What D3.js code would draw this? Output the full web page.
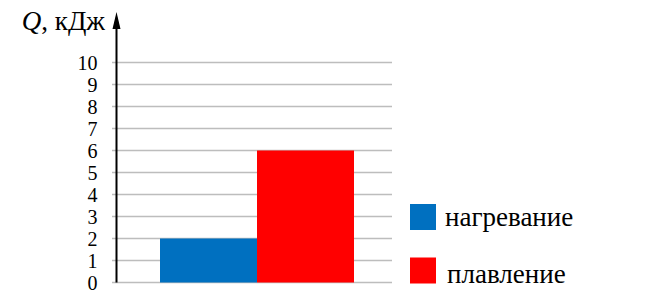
<!DOCTYPE html>
<html lang="ru">
<head>
<meta charset="UTF-8">
<script src="https://d3js.org/d3.v7.min.js"></script>
<style>
  body { margin: 0; background: #fff; }
</style>
</head>
<body>
<svg id="chart" width="648" height="304"></svg>
<script>
// data
const categories = ["нагревание", "плавление"];
const values = [2, 6];
const colors = ["#0070c0", "#ff0000"];
const yTicks = [0, 1, 2, 3, 4, 5, 6, 7, 8, 9, 10];

const serif = "'Liberation Serif', 'Times New Roman', serif";
const svg = d3.select("#chart");

// scales
const y = d3.scaleLinear().domain([0, 10]).range([282.5, 62.5]);
const x = d3.scaleBand().domain(categories).range([160, 354]).paddingInner(0);

// gridlines
svg.append("g")
  .selectAll("line")
  .data(yTicks)
  .join("line")
  .attr("x1", 112)
  .attr("x2", 392)
  .attr("y1", d => y(d))
  .attr("y2", d => y(d))
  .attr("stroke", "#bdbdbd")
  .attr("stroke-width", 1.5);

// bars
svg.append("g")
  .selectAll("rect")
  .data(values)
  .join("rect")
  .attr("x", (d, i) => x(categories[i]))
  .attr("width", x.bandwidth())
  .attr("y", d => y(d))
  .attr("height", d => y(0) - y(d))
  .attr("fill", (d, i) => colors[i]);

// y axis with arrow
const axis = d3.axisLeft(y).tickValues(yTicks).tickSize(0).tickPadding(19);
const gAxis = svg.append("g")
  .attr("transform", "translate(116.5,0)")
  .call(axis)
  .attr("font-family", null)
  .attr("font-size", null);
gAxis.select(".domain").remove();
gAxis.selectAll("text")
  .style("font-family", serif)
  .style("font-size", "20px")
  .attr("fill", "#000")
  .attr("dy", "0.34em");

svg.append("line")
  .attr("x1", 116.5).attr("x2", 116.5)
  .attr("y1", y(0)).attr("y2", 26)
  .attr("stroke", "#000").attr("stroke-width", 2);
svg.append("path")
  .attr("d", "M116.5,12 L112.5,29 L120.5,29 Z")
  .attr("fill", "#000");

// axis title
const title = svg.append("text")
  .attr("x", 105)
  .attr("y", 30)
  .attr("text-anchor", "end")
  .style("font-family", serif)
  .style("font-size", "27px");
title.append("tspan").attr("font-style", "italic").text("Q");
title.append("tspan").text(", кДж");

// legend
const legend = svg.append("g")
  .selectAll("g")
  .data(categories)
  .join("g")
  .attr("transform", (d, i) => `translate(410,${204 + i * 53.5})`);
legend.append("rect")
  .attr("width", 26).attr("height", 26)
  .attr("fill", (d, i) => colors[i]);
legend.append("text")
  .attr("x", (d, i) => i === 0 ? 35 : 37)
  .attr("y", (d, i) => i === 0 ? 22 : 25)
  .style("font-family", serif)
  .style("font-size", "27px")
  .text(d => d);
</script>
</body>
</html>
